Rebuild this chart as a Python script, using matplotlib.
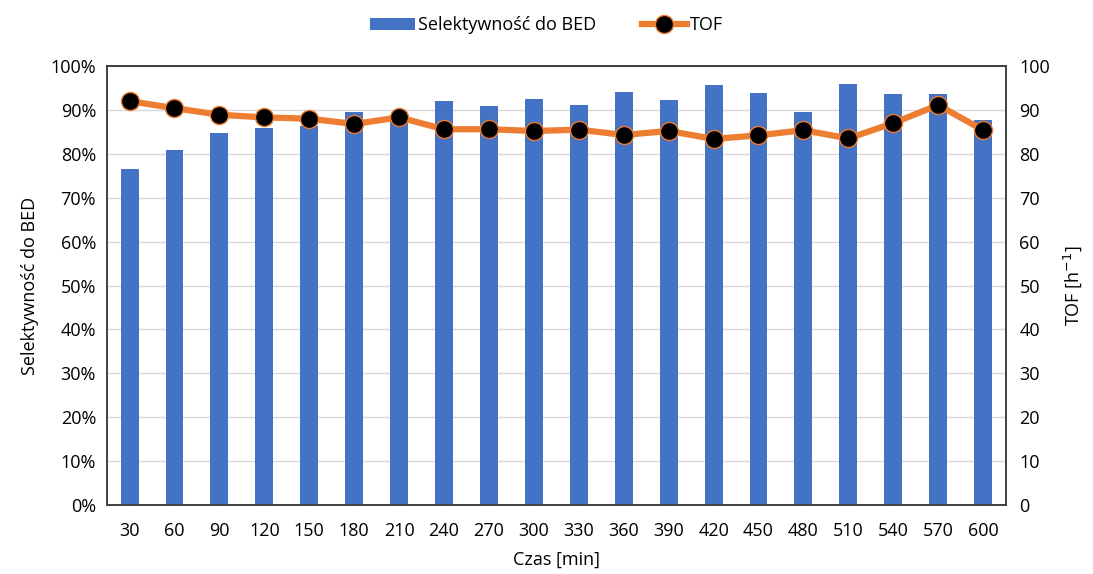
import matplotlib
matplotlib.use("Agg")
import matplotlib.pyplot as plt
from matplotlib.ticker import PercentFormatter

plt.rcParams["font.family"] = ["Open Sans", "DejaVu Sans"]

# dane
czas = [30, 60, 90, 120, 150, 180, 210, 240, 270, 300,
        330, 360, 390, 420, 450, 480, 510, 540, 570, 600]
selektywnosc = [76.5, 80.8, 84.8, 85.8, 86.4, 89.5, 88.3, 92.0, 90.8, 92.4,
                91.1, 94.0, 92.2, 95.6, 93.8, 89.5, 95.8, 93.6, 93.6, 87.8]
tof = [92.0, 90.4, 88.9, 88.3, 88.0, 86.8, 88.3, 85.6, 85.6, 85.2,
       85.5, 84.3, 85.2, 83.4, 84.2, 85.4, 83.5, 87.0, 91.1, 85.4]

fig = plt.figure(figsize=(10.93, 5.74), dpi=100)
ax = fig.add_axes([0.098, 0.12, 0.822, 0.765])
x = list(range(len(czas)))

bars = ax.bar(x, selektywnosc, width=0.4, color="#4472C4", zorder=2,
              label="Selektywność do BED")
ax.set_ylim(0, 100)
ax.set_yticks(range(0, 101, 10))
ax.yaxis.set_major_formatter(PercentFormatter(decimals=0))
ax.set_xlim(-0.5, len(czas) - 0.5)
ax.set_xticks(x)
ax.set_xticklabels([str(c) for c in czas])
ax.grid(axis="y", color="#d9d9d9", linewidth=1, zorder=0)
ax.set_axisbelow(True)
ax.tick_params(axis="y", length=0, labelsize=13, pad=8)
ax.tick_params(axis="x", length=0, labelsize=13, pad=12)
ax.set_ylabel("Selektywność do BED", fontsize=13, labelpad=8)
ax.set_xlabel("Czas [min]", fontsize=13, labelpad=8)

ax2 = ax.twinx()
line, = ax2.plot(x, tof, color="#ED7D31", linewidth=4.5, marker="o",
                 markersize=13, markerfacecolor="black",
                 markeredgecolor="#ED7D31", markeredgewidth=1, label="TOF")
ax2.set_ylim(0, 100)
ax2.set_yticks(range(0, 101, 10))
ax2.tick_params(length=0, labelsize=13, pad=10)
ax2.set_ylabel("TOF [h$^{-1}$]", fontsize=13, labelpad=8)

for a in (ax, ax2):
    for s in a.spines.values():
        s.set_color("#404040")
        s.set_linewidth(1.2)

fig.legend(handles=[bars, line], loc="upper center", bbox_to_anchor=(0.5, 1.0),
           ncol=2, frameon=False, fontsize=13, handlelength=2.5,
           columnspacing=2.5, handletextpad=0.2)

fig.savefig("out.png", dpi=100)
